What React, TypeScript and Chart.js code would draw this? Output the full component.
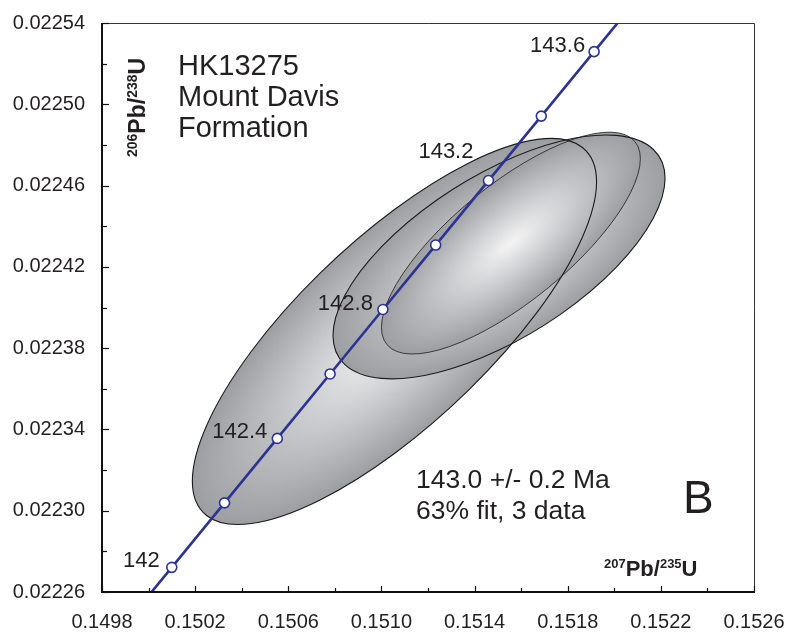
import React, { useEffect, useRef } from 'react';
import { Chart, registerables } from 'chart.js';

Chart.register(...registerables);

// ---- axis tick labels ----
const xTickLabels = ['0.1498', '0.1502', '0.1506', '0.1510', '0.1514', '0.1518', '0.1522', '0.1526'];
const yTickLabels = ['0.02226', '0.02230', '0.02234', '0.02238', '0.02242', '0.02246', '0.02250', '0.02254'];

// ---- concordia curve (age in Ma, 207Pb/235U, 206Pb/238U) ----
const concordiaAges = [141.8, 142.0, 142.2, 142.4, 142.6, 142.8, 143.0, 143.2, 143.4, 143.6, 143.8];
const concordiaX = [0.14987318, 0.15009969, 0.15032625, 0.15055285, 0.15077949, 0.15100618, 0.15123291, 0.15145969, 0.15168651, 0.15191338, 0.15214029];
const concordiaY = [0.02224043, 0.02227214, 0.02230386, 0.02233558, 0.0223673, 0.02239901, 0.02243073, 0.02246246, 0.02249418, 0.0225259, 0.02255763];
const markerAges = [142.0, 142.2, 142.4, 142.6, 142.8, 143.0, 143.2, 143.4, 143.6];
const labelAges = [142.0, 142.4, 142.8, 143.2, 143.6];
const labelTexts = ['142', '142.4', '142.8', '143.2', '143.6'];
const labelOffsets = [[-12, 0], [-10, 0], [-10, 0], [-15, -23], [-9, 0]];

// ---- error ellipses (centre, half extent in x / y, correlation) ----
const ellipseX = [0.151056, 0.151505, 0.151556];
const ellipseY = [0.0223882, 0.0224249, 0.0224317];
const ellipseHalfX = [0.000868, 0.000713, 0.000556];
const ellipseHalfY = [0.0000950, 0.00006, 0.0000546];
const ellipseRho = [0.775, 0.645, 0.76];
const ellipseLineWidth = [1.1, 1.1, 0.8];

// ---- annotation text ----
const sampleLines = ['HK13275', 'Mount Davis', 'Formation'];
const resultLines = ['143.0 +/- 0.2 Ma', '63% fit, 3 data'];
const panelLetter = 'B';

const FONT = '"Liberation Sans", Arial, Helvetica, sans-serif';
const TEXT = '#231f20';
const BLUE = '#2c3391';

function tickValues(labels: string[]) {
  const out: { value: number }[] = [];
  for (let i = 0; i < labels.length; i++) {
    const v = parseFloat(labels[i]);
    out.push({ value: v });
    if (i < labels.length - 1) {
      const n = parseFloat(labels[i + 1]);
      out.push({ value: (v + n) / 2 });
    }
  }
  return out;
}

function drawIsotope(ctx: CanvasRenderingContext2D, x: number, y: number, sup1: string, main1: string, sup2: string, main2: string, mainSize: number, supSize: number, raise: number) {
  let cx = x;
  const parts: [string, boolean][] = [[sup1, true], [main1, false], [sup2, true], [main2, false]];
  ctx.textAlign = 'left';
  ctx.textBaseline = 'alphabetic';
  for (const [t, sup] of parts) {
    ctx.font = `bold ${sup ? supSize : mainSize}px ${FONT}`;
    ctx.fillText(t, cx, sup ? y - raise : y);
    cx += ctx.measureText(t).width;
  }
}

const ellipsePlugin = {
  id: 'ellipses',
  beforeDatasetsDraw(chart: any) {
    const ctx: CanvasRenderingContext2D = chart.ctx;
    const xs = chart.scales.x;
    const ys = chart.scales.y;
    const geo = ellipseX.map((ex, i) => {
      const cx = xs.getPixelForValue(ex);
      const cy = ys.getPixelForValue(ellipseY[i]);
      const hx = xs.getPixelForValue(ex + ellipseHalfX[i]) - cx;
      const hy = cy - ys.getPixelForValue(ellipseY[i] + ellipseHalfY[i]);
      const r = ellipseRho[i];
      return { cx, cy, hx, hy, r, s: Math.sqrt(1 - r * r) };
    });
    ctx.save();
    ctx.beginPath();
    ctx.rect(chart.chartArea.left, chart.chartArea.top, chart.chartArea.right - chart.chartArea.left, chart.chartArea.bottom - chart.chartArea.top);
    ctx.clip();
    for (const g of geo) {
      ctx.save();
      ctx.transform(g.hx, -g.hy * g.r, 0, -g.hy * g.s, g.cx, g.cy);
      const grad = ctx.createRadialGradient(0, 0, 0, 0, 0, 1);
      grad.addColorStop(0, '#f4f4f4');
      grad.addColorStop(0.5, '#c8c9cc');
      grad.addColorStop(1, '#9d9ea2');
      ctx.beginPath();
      ctx.arc(0, 0, 1, 0, Math.PI * 2);
      ctx.fillStyle = grad;
      ctx.fill();
      ctx.restore();
    }
    geo.forEach((g, i) => {
      ctx.save();
      ctx.transform(g.hx, -g.hy * g.r, 0, -g.hy * g.s, g.cx, g.cy);
      ctx.beginPath();
      ctx.arc(0, 0, 1, 0, Math.PI * 2);
      ctx.restore();
      ctx.lineWidth = ellipseLineWidth[i];
      ctx.strokeStyle = '#1c1c1c';
      ctx.stroke();
    });
    ctx.restore();
  },
};

const decorPlugin = {
  id: 'decor',
  afterDatasetsDraw(chart: any) {
    const ctx: CanvasRenderingContext2D = chart.ctx;
    const xs = chart.scales.x;
    const ys = chart.scales.y;
    const { left, right, top, bottom } = chart.chartArea;
    ctx.save();

    // frame
    ctx.strokeStyle = '#333';
    ctx.lineWidth = 1;
    ctx.beginPath();
    ctx.moveTo(left, top + 0.5);
    ctx.lineTo(right + 0.5, top + 0.5);
    ctx.lineTo(right + 0.5, bottom);
    ctx.stroke();
    ctx.strokeStyle = '#111';
    ctx.lineWidth = 2;
    ctx.beginPath();
    ctx.moveTo(left, top);
    ctx.lineTo(left, bottom);
    ctx.lineTo(right + 1, bottom);
    ctx.stroke();

    // inward ticks
    ctx.lineWidth = 1.2;
    xs.ticks.forEach((t: any, i: number) => {
      const px = Math.round(xs.getPixelForValue(t.value)) + 0.5;
      const len = i % 2 === 0 ? 6 : 4;
      ctx.beginPath();
      ctx.moveTo(px, bottom);
      ctx.lineTo(px, bottom - len);
      ctx.stroke();
    });
    ys.ticks.forEach((t: any, i: number) => {
      const py = Math.round(ys.getPixelForValue(t.value)) + 0.5;
      const len = i % 2 === 0 ? 7 : 5;
      ctx.beginPath();
      ctx.moveTo(left, py);
      ctx.lineTo(left + len, py);
      ctx.stroke();
    });

    // concordia age labels
    ctx.fillStyle = TEXT;
    ctx.font = `22px ${FONT}`;
    ctx.textAlign = 'right';
    ctx.textBaseline = 'alphabetic';
    labelAges.forEach((age, i) => {
      const idx = concordiaAges.indexOf(age);
      const px = xs.getPixelForValue(concordiaX[idx]);
      const py = ys.getPixelForValue(concordiaY[idx]);
      ctx.fillText(labelTexts[i], px + labelOffsets[i][0], py + labelOffsets[i][1]);
    });

    // sample name
    ctx.textAlign = 'left';
    ctx.font = `29px ${FONT}`;
    sampleLines.forEach((l, i) => ctx.fillText(l, 178, 75 + i * 31));

    // result
    ctx.font = `26.5px ${FONT}`;
    resultLines.forEach((l, i) => ctx.fillText(l, 416, 488 + i * 31));

    // panel letter
    ctx.font = `46px ${FONT}`;
    ctx.fillText(panelLetter, 683, 513);

    // axis titles
    drawIsotope(ctx, 604, 576, '207', 'Pb/', '235', 'U', 22, 13, 8);
    ctx.save();
    ctx.translate(145, 157);
    ctx.rotate(-Math.PI / 2);
    drawIsotope(ctx, 0, 0, '206', 'Pb/', '238', 'U', 23, 14, 8);
    ctx.restore();

    ctx.restore();
  },
};

export default function App() {
  const ref = useRef<HTMLCanvasElement | null>(null);
  useEffect(() => {
    if (!ref.current) return;
    const points = concordiaX.map((x, i) => ({ x, y: concordiaY[i] }));
    const radii = concordiaAges.map((a) => (markerAges.includes(a) ? 5 : 0));
    const tickFont = { family: FONT, size: 20 };
    const chart = new Chart(ref.current, {
      type: 'scatter',
      data: {
        datasets: [
          {
            data: points,
            showLine: true,
            borderColor: BLUE,
            borderWidth: 2.6,
            pointRadius: radii,
            pointHoverRadius: radii,
            pointBackgroundColor: '#ffffff',
            pointBorderColor: BLUE,
            pointBorderWidth: 1.6,
            clip: 0,
          } as any,
        ],
      },
      options: {
        animation: false,
        responsive: false,
        devicePixelRatio: 1,
        layout: { padding: { left: 0, right: 33, top: 23, bottom: 0 } },
        plugins: { legend: { display: false }, tooltip: { enabled: false } },
        events: [],
        scales: {
          x: {
            type: 'linear',
            min: parseFloat(xTickLabels[0]),
            max: parseFloat(xTickLabels[xTickLabels.length - 1]),
            afterBuildTicks: (s: any) => {
              s.ticks = tickValues(xTickLabels);
            },
            afterFit: (s: any) => {
              s.height = 42;
              s.paddingLeft = 0;
              s.paddingRight = 0;
              s.paddingTop = 0;
              s.paddingBottom = 0;
            },
            grid: { display: false, drawTicks: false },
            border: { display: false },
            ticks: {
              autoSkip: false,
              maxRotation: 0,
              minRotation: 0,
              padding: 18,
              color: TEXT,
              font: tickFont,
              callback: (_v: any, i: number) => (i % 2 === 0 ? xTickLabels[i / 2] : ''),
            },
          },
          y: {
            type: 'linear',
            min: parseFloat(yTickLabels[0]),
            max: parseFloat(yTickLabels[yTickLabels.length - 1]),
            afterBuildTicks: (s: any) => {
              s.ticks = tickValues(yTickLabels);
            },
            afterFit: (s: any) => {
              s.width = 102;
              s.paddingLeft = 0;
              s.paddingRight = 0;
              s.paddingTop = 0;
              s.paddingBottom = 0;
            },
            grid: { display: false, drawTicks: false },
            border: { display: false },
            ticks: {
              autoSkip: false,
              padding: 17,
              color: TEXT,
              font: tickFont,
              callback: (_v: any, i: number) => (i % 2 === 0 ? yTickLabels[i / 2] : ''),
            },
          },
        },
      } as any,
      plugins: [ellipsePlugin, decorPlugin],
    });
    return () => chart.destroy();
  }, []);

  return (
    <div style={{ position: 'fixed', left: 0, top: 0, width: 787, height: 634, background: '#fff' }}>
      <canvas ref={ref} width={787} height={634} style={{ display: 'block', width: 787, height: 634 }} />
    </div>
  );
}
